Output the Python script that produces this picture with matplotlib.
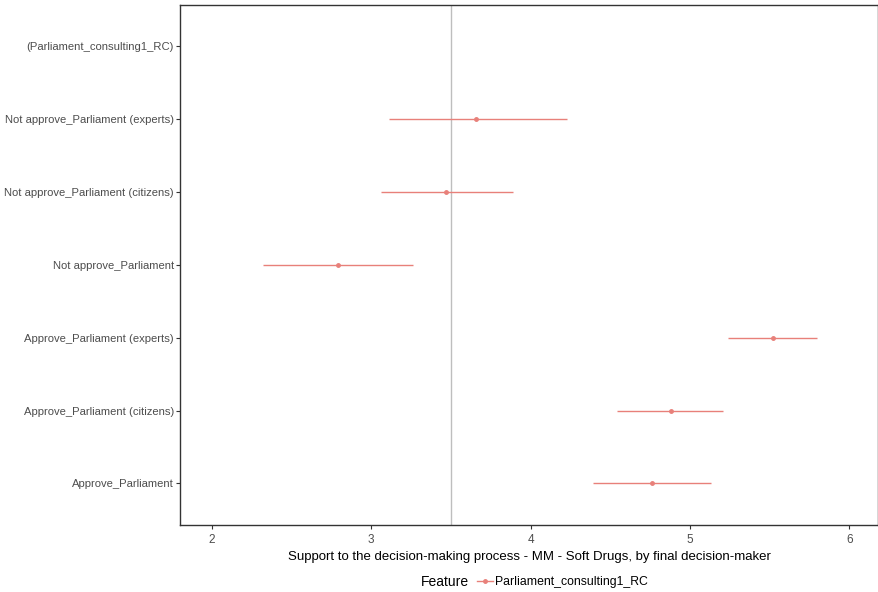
import numpy as np
import matplotlib.pyplot as plt
from matplotlib.lines import Line2D
from matplotlib.offsetbox import HPacker

plt.rcParams['font.family'] = ['Liberation Sans', 'DejaVu Sans']

# --- Data ---
categories = [
    "Approve_Parliament",
    "Approve_Parliament (citizens)",
    "Approve_Parliament (experts)",
    "Not approve_Parliament",
    "Not approve_Parliament (citizens)",
    "Not approve_Parliament (experts)",
    "(Parliament_consulting1_RC)",
]
estimate = [4.76, 4.88, 5.52, 2.79, 3.47, 3.66, np.nan]
lower = [4.39, 4.54, 5.24, 2.32, 3.06, 3.11, np.nan]
upper = [5.13, 5.21, 5.80, 3.26, 3.89, 4.23, np.nan]
ref_line = 3.5
feature = "Parliament_consulting1_RC"

RED = '#E8807A'
TXT = '#4D4D4D'

fig = plt.figure(figsize=(8.79, 5.92), dpi=100)
ax = fig.add_axes([0.2048, 0.1132, 0.7940, 0.8784])

y = np.arange(1, len(categories) + 1)
est = np.array(estimate)
lo = np.array(lower)
hi = np.array(upper)

ax.axvline(ref_line, color='#BEBEBE', lw=1.0, zorder=1)
ax.hlines(y, lo, hi, color=RED, lw=1.0, zorder=2)
ax.plot(est, y, 'o', color=RED, ms=2.5, zorder=3)

ax.set_xlim(1.80, 6.18)
ax.set_ylim(0.43, 7.57)
ax.set_xticks([2, 3, 4, 5, 6])
ax.set_yticks(y)
ax.set_yticklabels(categories)
ax.tick_params(colors='#333333', labelcolor=TXT, labelsize=8.1, length=3, width=0.8)
ax.tick_params(axis='x', labelsize=8.5)
ax.tick_params(axis='y', pad=1.5)
for s in ax.spines.values():
    s.set_color('#333333')
    s.set_linewidth(1.0)

ax.set_xlabel("Support to the decision-making process - MM - Soft Drugs, by final decision-maker",
              fontsize=9.5, color='black', labelpad=3.5)

# legend at the bottom, title to the left of the key (ggplot style)
handle = Line2D([], [], color=RED, lw=1.0, marker='o', ms=2.5)
leg = fig.legend([handle], [feature], loc='center', bbox_to_anchor=(0.608, 0.017),
                 frameon=False, title="Feature", fontsize=8.8, title_fontsize=10,
                 handlelength=1.3, handletextpad=0.2, borderpad=0)
box = leg._legend_box
box._children = [HPacker(children=[box._children[0], box._children[1]],
                         pad=0, sep=6, align='center')]

fig.savefig('out.png', dpi=100)
